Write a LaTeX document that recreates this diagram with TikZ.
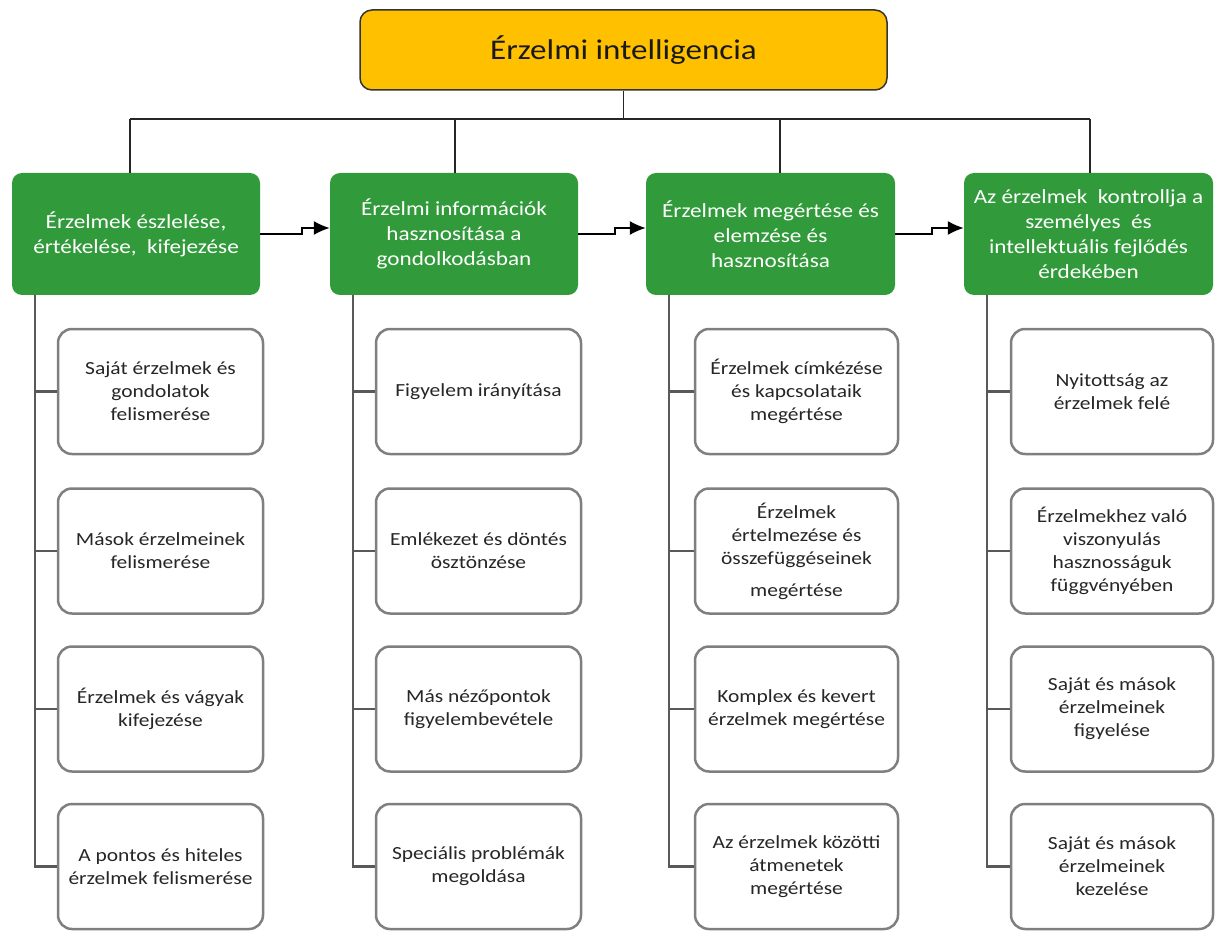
\documentclass[tikz,border=0pt]{standalone}
\usepackage{fontspec}
\setmainfont{Carlito}[FakeStretch=1.16]
\usetikzlibrary{arrows.meta}
\definecolor{topfill}{HTML}{FFC000}
\definecolor{boxgreen}{HTML}{319A3A}
\definecolor{framegray}{HTML}{7F7F7F}
\definecolor{spinegray}{HTML}{595959}
\definecolor{inktext}{HTML}{262626}

\tikzset{
  rootbox/.style={draw=black!80, line width=1.5pt, fill=topfill, rounded corners=12pt,
    minimum width=527pt, minimum height=80pt, inner sep=0pt,
    font=\fontsize{28.5}{34}\selectfont, text=black!90},
  groupbox/.style={fill=boxgreen, draw=none, rounded corners=10pt,
    minimum height=122pt, inner sep=0pt, align=center, text=white,
    font=\fontsize{20}{25}\selectfont},
  itembox/.style={draw=framegray, line width=2.5pt, fill=white, rounded corners=14pt,
    minimum height=125pt, inner sep=0pt, align=center, text=inktext,
    font=\fontsize{18.5}{23}\selectfont},
  tree/.style={draw=black!85, line width=1.5pt},
  spine/.style={draw=spinegray, line width=2.5pt},
  flow/.style={draw=black, line width=1.6pt, -{Latex[length=16pt,width=14pt]}},
}

\begin{document}
\begin{tikzpicture}[x=1pt, y=-1pt]
\useasboundingbox (0,0) rectangle (1215,933);

% root
\node[rootbox] (top) at (623.5,50) {Érzelmi intelligencia};

% four main groups
\node[groupbox, minimum width=248pt] (g1) at (136,234)
  {Érzelmek észlelése,\\ értékelése,\ \ kifejezése};
\node[groupbox, minimum width=248pt] (g2) at (454,234)
  {Érzelmi információk\\ hasznosítása a\\ gondolkodásban};
\node[groupbox, minimum width=249pt] (g3) at (770.5,234)
  {Érzelmek megértése és\\ elemzése és\\ hasznosítása};
\node[groupbox, minimum width=249pt] (g4) at (1088.5,234)
  {Az érzelmek\ \ kontrollja a\\ személyes\ \ és\\ intellektuális fejlődés\\ érdekében};

% bus from root to groups
\coordinate (b1) at (130,119);
\coordinate (b2) at (455,119);
\coordinate (b3) at (780,119);
\coordinate (b4) at (1090,119);
\draw[tree] (top.south) -- (top.south |- b1);
\draw[tree] (b1) -- (b4);
\draw[tree] (b1) -- (b1 |- g1.north);
\draw[tree] (b2) -- (b2 |- g2.north);
\draw[tree] (b3) -- (b3 |- g3.north);
\draw[tree] (b4) -- (b4 |- g4.north);

% flow arrows between groups
\draw[flow] (g1.east) -- ++(42,0) |- ([yshift=6pt]g2.west);
\draw[flow] (g2.east) -- ++(37,0) |- ([yshift=6pt]g3.west);
\draw[flow] (g3.east) -- ++(37,0) |- ([yshift=6pt]g4.west);

% column 1 items
\node[itembox, minimum width=205pt] (c11) at (160.5,391.5) {Saját érzelmek és\\ gondolatok\\ felismerése};
\node[itembox, minimum width=205pt] (c12) at (160.5,551) {Mások érzelmeinek\\ felismerése};
\node[itembox, minimum width=205pt] (c13) at (160.5,709) {Érzelmek és vágyak\\ kifejezése};
\node[itembox, minimum width=205pt] (c14) at (160.5,866.5) {A pontos és hiteles\\ érzelmek felismerése};

% column 2 items
\node[itembox, minimum width=205pt] (c21) at (478.5,391.5) {Figyelem irányítása};
\node[itembox, minimum width=205pt] (c22) at (478.5,551) {Emlékezet és döntés\\ ösztönzése};
\node[itembox, minimum width=205pt] (c23) at (478.5,709) {Más nézőpontok\\ figyelembevétele};
\node[itembox, minimum width=205pt] (c24) at (478.5,866.5) {Speciális problémák\\ megoldása};

% column 3 items
\node[itembox, minimum width=203pt] (c31) at (796.5,391.5) {Érzelmek címkézése\\ és kapcsolataik\\ megértése};
\node[itembox, minimum width=203pt] (c32) at (796.5,551) {Érzelmek\\ értelmezése és\\ összefüggéseinek\\[9pt] megértése};
\node[itembox, minimum width=203pt] (c33) at (796.5,709) {Komplex és kevert\\ érzelmek megértése};
\node[itembox, minimum width=203pt] (c34) at (796.5,866.5) {Az érzelmek közötti\\ átmenetek\\ megértése};

% column 4 items
\node[itembox, minimum width=202pt] (c41) at (1112,391.5) {Nyitottság az\\ érzelmek felé};
\node[itembox, minimum width=202pt] (c42) at (1112,551) {Érzelmekhez való\\ viszonyulás\\ hasznosságuk\\ függvényében};
\node[itembox, minimum width=202pt] (c43) at (1112,709) {Saját és mások\\ érzelmeinek\\ figyelése};
\node[itembox, minimum width=202pt] (c44) at (1112,866.5) {Saját és mások\\ érzelmeinek\\ kezelése};

% spines from each group down to its items
\foreach \g in {1,2,3,4}{
  \coordinate (s\g) at ([xshift=23pt]g\g.south west);
  \draw[spine] (s\g) |- (c\g4.west);
  \foreach \k in {1,2,3}{
    \draw[spine] (c\g\k.west) -- (c\g\k.west -| s\g);
  }
}
\end{tikzpicture}
\end{document}
